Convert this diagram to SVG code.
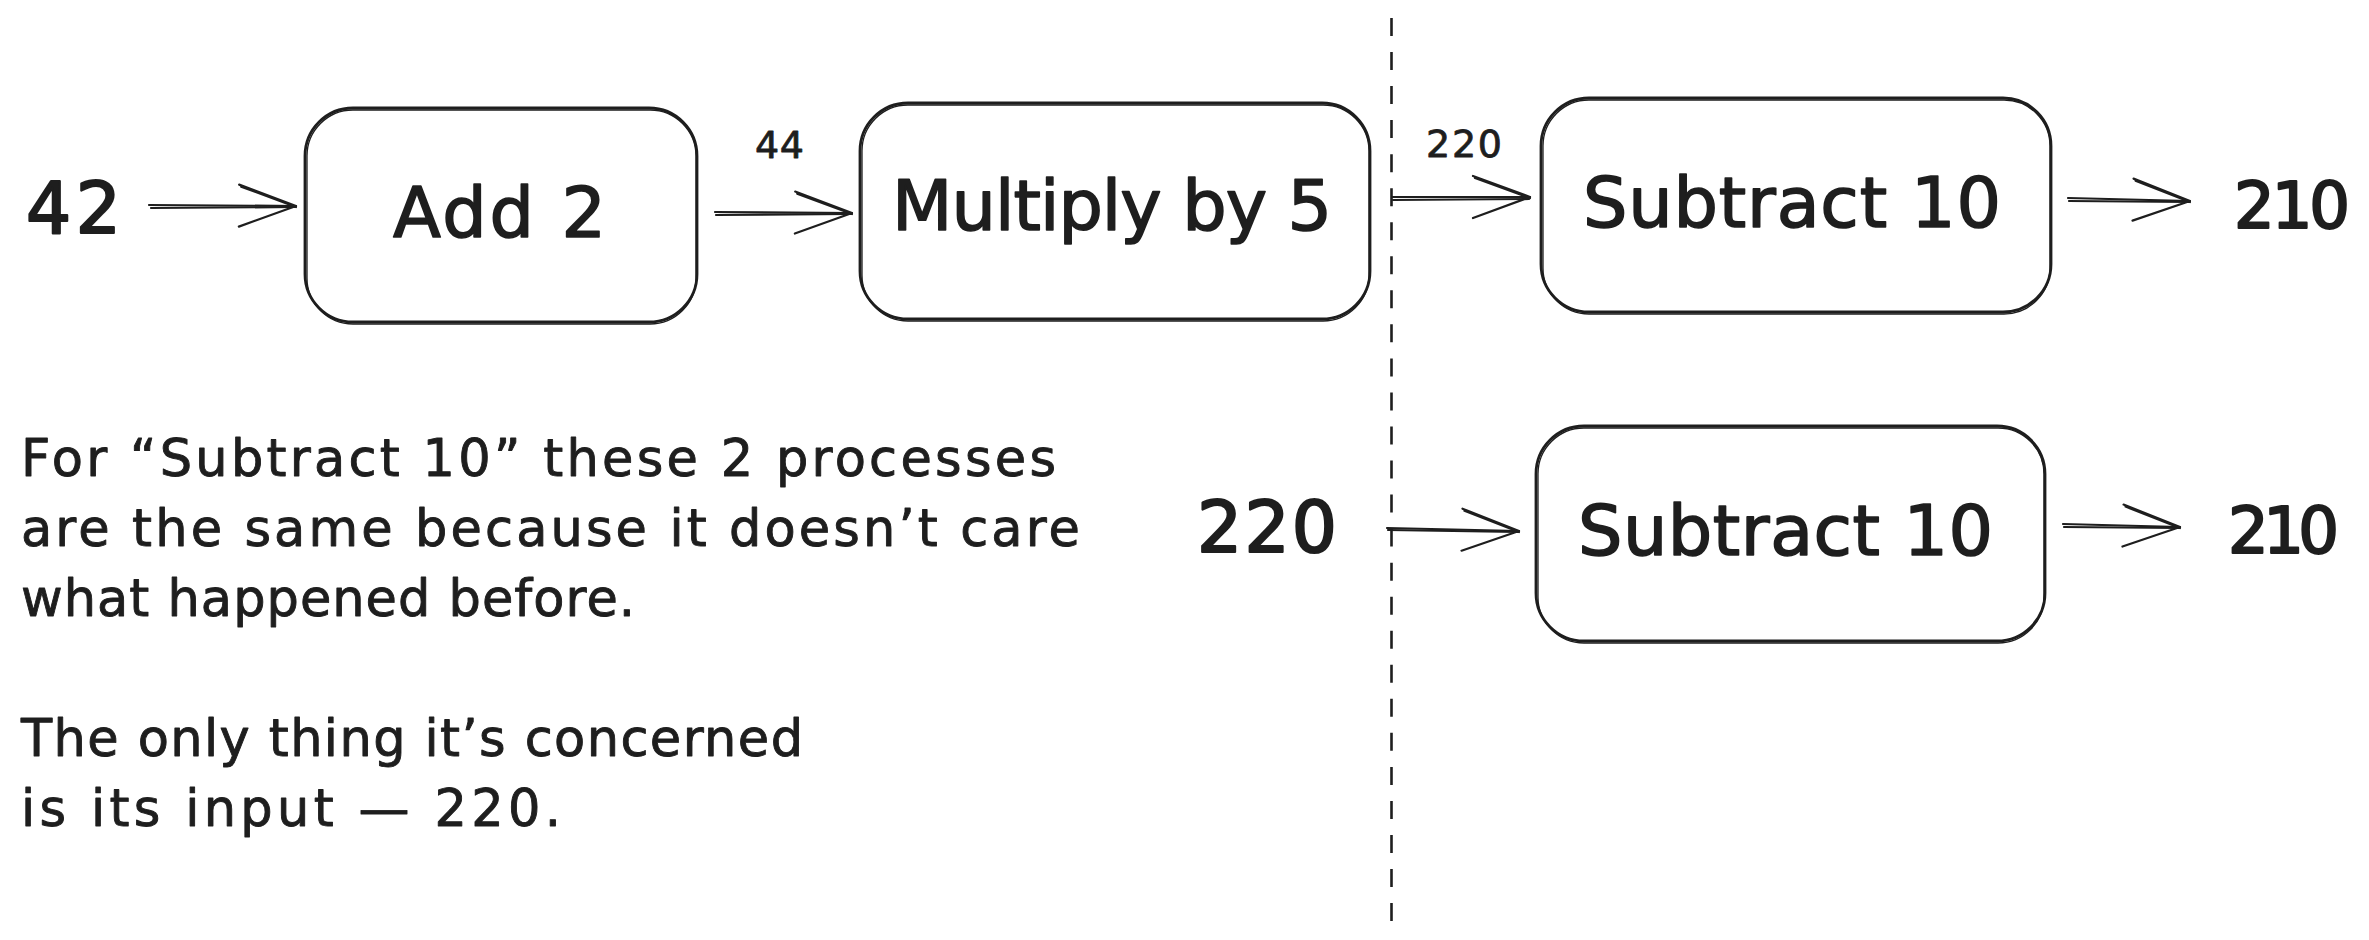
<svg xmlns="http://www.w3.org/2000/svg" width="2369" height="940" viewBox="0 0 2369 940">
<defs>
<style>
.box{fill:none;stroke:#1e1e1e;stroke-width:2.8}
.box2{fill:none;stroke:#1e1e1e;stroke-width:1.3}
.lbl{font-family:"DejaVu Sans",sans-serif;fill:#1e1e1e;stroke:#1e1e1e;stroke-linejoin:round}
.big{font-size:70px;stroke-width:1.6}
.num{font-size:64px;stroke-width:2.2}
.numw{font-size:71px;stroke-width:2.2}
.small{font-size:38px;stroke-width:0.8}
.para{font-size:51px;stroke-width:0.9}
.shaft{fill:none;stroke:#1e1e1e;stroke-width:2.2;stroke-linecap:round}
.dash{fill:none;stroke:#1e1e1e;stroke-width:2.6;stroke-dasharray:18 16.04}
</style>
<marker id="head" markerUnits="userSpaceOnUse" viewBox="-62 -26 66 52" markerWidth="66" markerHeight="52" refX="0" refY="0" orient="auto">
<path d="M-57 -21 L0 0 L-57 21 M-55 -19 L0 1" fill="none" stroke="#1e1e1e" stroke-width="2.2" stroke-linecap="round" stroke-linejoin="round"/>
</marker>
</defs>
<rect width="2369" height="940" fill="#ffffff"/>

<g id="connectors">
<path class="dash" d="M1391.5 18 L1391.5 921"/>
<path class="shaft" d="M151 208 L295 207"/>
<path class="shaft" d="M149 205 L296 206" marker-end="url(#head)"/>
<path class="shaft" d="M716 215 L851 214"/>
<path class="shaft" d="M715 212 L852 213" marker-end="url(#head)"/>
<path class="shaft" d="M1393 200 L1529 199"/>
<path class="shaft" d="M1392 197 L1530 197" marker-end="url(#head)"/>
<path class="shaft" d="M2069 201 L2189 202"/>
<path class="shaft" d="M2068 198 L2190 201" marker-end="url(#head)"/>
<path class="shaft" d="M1388 530 L1518 532"/>
<path class="shaft" d="M1387 528 L1519 531" marker-end="url(#head)"/>
<path class="shaft" d="M2064 527 L2179 528"/>
<path class="shaft" d="M2063 524 L2180 527" marker-end="url(#head)"/>
</g>

<g id="in42"><text class="lbl numw" x="26" y="233" textLength="95">42</text></g>

<g id="add2">
<rect class="box" x="305" y="108" width="392" height="214" rx="48" ry="48"/>
<rect class="box2" x="307" y="110" width="389" height="214" rx="46" ry="46"/>
<text class="lbl big" x="393" y="237" textLength="213">Add 2</text>
</g>

<g id="lbl44"><text class="lbl small" x="755" y="158" textLength="49">44</text></g>

<g id="multiply">
<rect class="box" x="860" y="103" width="510" height="216" rx="48" ry="48"/>
<rect class="box2" x="862" y="105" width="507" height="216" rx="46" ry="46"/>
<text class="lbl big" x="892" y="230" textLength="440">Multiply by 5</text>
</g>

<g id="lbl220"><text class="lbl small" x="1426" y="157" textLength="76">220</text></g>

<g id="subtract1">
<rect class="box" x="1541" y="98" width="510" height="214" rx="48" ry="48"/>
<rect class="box2" x="1543" y="100" width="507" height="214" rx="46" ry="46"/>
<text class="lbl big" x="1583" y="227" textLength="418">Subtract 10</text>
</g>

<g id="out210a"><text class="lbl num" x="2234" y="228" textLength="116">210</text></g>

<g id="in220"><text class="lbl numw" x="1197" y="552" textLength="140">220</text></g>

<g id="subtract2">
<rect class="box" x="1536" y="426" width="509" height="215" rx="48" ry="48"/>
<rect class="box2" x="1538" y="428" width="506" height="215" rx="46" ry="46"/>
<text class="lbl big" x="1578" y="555" textLength="415">Subtract 10</text>
</g>

<g id="out210b"><text class="lbl num" x="2228" y="553" textLength="111">210</text></g>

<g id="note">
<text class="lbl para" x="21" y="476" textLength="1035">For “Subtract 10” these 2 processes</text>
<text class="lbl para" x="21" y="546" textLength="1059">are the same because it doesn’t care</text>
<text class="lbl para" x="21" y="616" textLength="614">what happened before.</text>
<text class="lbl para" x="21" y="756" textLength="782">The only thing it’s concerned</text>
<text class="lbl para" x="21" y="826" textLength="540">is its input — 220.</text>
</g>
</svg>
